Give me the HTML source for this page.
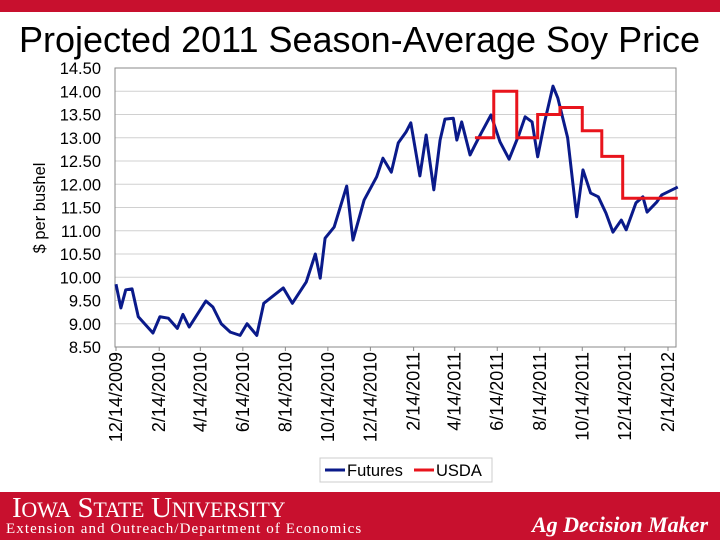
<!DOCTYPE html>
<html><head><meta charset="utf-8"><style>
body{margin:0;width:720px;height:540px;overflow:hidden;background:#fff;font-family:"Liberation Sans",Arial,sans-serif;position:relative}
</style></head><body>
<div style="position:absolute;left:0;top:0;width:720px;height:12px;background:#c8102e"></div>
<div style="position:absolute;left:19px;top:19px;font-size:36px;color:#000;white-space:nowrap">Projected 2011 Season-Average Soy Price</div>
<svg id="chart" width="720" height="540" style="position:absolute;left:0;top:0"></svg>
<div style="position:absolute;left:0;top:492px;width:720px;height:48px;background:#c8102e;color:#fff">
<div style="position:absolute;left:12px;top:0px;font-family:'Liberation Serif',serif;font-size:29px;letter-spacing:-0.3px;white-space:nowrap">I<span style="font-size:22px">OWA</span> S<span style="font-size:22px">TATE</span> U<span style="font-size:22px">NIVERSITY</span></div>
<div style="position:absolute;left:6px;top:29px;font-family:'Liberation Serif',serif;font-size:15px;letter-spacing:1.1px;white-space:nowrap">Extension and Outreach/Department of Economics</div>
<div style="position:absolute;right:12px;top:20px;font-family:'Liberation Serif',serif;font-style:italic;font-weight:bold;font-size:22px;white-space:nowrap">Ag Decision Maker</div>
</div>
<script>
const yTicks=[8.5,9.0,9.5,10.0,10.5,11.0,11.5,12.0,12.5,13.0,13.5,14.0,14.5];
const xTickLabels=["12/14/2009","2/14/2010","4/14/2010","6/14/2010","8/14/2010","10/14/2010","12/14/2010","2/14/2011","4/14/2011","6/14/2011","8/14/2011","10/14/2011","12/14/2011","2/14/2012"];
const xTickDays=[0,62,121,182,243,304,365,427,486,547,608,669,730,792];
const futuresDays=[0,7,14,23,32,53,63,75,88,96,105,129,139,151,164,178,188,202,212,240,253,273,286,293,300,313,331,340,356,374,383,395,405,416,423,436,445,456,465,472,484,489,496,508,515,524,538,551,564,578,587,597,605,615,627,634,648,661,670,681,692,703,713,725,732,746,756,762,776,783,806];
const futuresVals=[9.85,9.34,9.73,9.75,9.15,8.8,9.15,9.12,8.9,9.2,8.93,9.49,9.36,9.0,8.82,8.75,9.0,8.75,9.44,9.77,9.44,9.9,10.5,9.98,10.84,11.08,11.96,10.8,11.66,12.16,12.56,12.26,12.89,13.12,13.32,12.18,13.06,11.88,12.95,13.4,13.42,12.95,13.34,12.63,12.84,13.1,13.49,12.91,12.54,13.06,13.45,13.34,12.59,13.34,14.11,13.85,13.0,11.3,12.31,11.81,11.73,11.38,10.97,11.23,11.02,11.6,11.73,11.4,11.62,11.77,11.94];
const usdaBreaks=[515,542,575,605,637,669,697,727,806];
const usdaVals=[13.0,14.0,13.0,13.5,13.65,13.15,12.6,11.7];
const L=115,R=676,T=68,B=347;
const xs=d=>116+d*(668-116)/792;
const ys=v=>B-(v-8.5)*(B-T)/6;
const svg=document.getElementById('chart');const NS='http://www.w3.org/2000/svg';
function mk(t,a,p){const e=document.createElementNS(NS,t);for(const k in a)e.setAttribute(k,a[k]);(p||svg).appendChild(e);return e;}
yTicks.forEach(v=>{const g=mk('line',{x1:L,x2:R,y1:ys(v),y2:ys(v),stroke:'#d0d0d0','stroke-width':1});


const t=mk('text',{x:101,y:ys(v)+6,'text-anchor':'end','font-size':16.5,fill:'#000'});t.textContent=v.toFixed(2);

});
const fr=mk('rect',{x:L,y:T,width:R-L,height:B-T,fill:'none',stroke:'#888','stroke-width':1});


xTickLabels.forEach((s,i)=>{const x=xs(xTickDays[i]);mk('line',{x1:x,x2:x,y1:B,y2:B+4,stroke:'#888'});
const t=mk('text',{transform:`translate(${x+6},352) rotate(-90)`,'text-anchor':'end','font-size':18,fill:'#000'});t.textContent=s;

});
const yt=mk('text',{transform:'translate(45,208) rotate(-90)','text-anchor':'middle','font-size':16.5,fill:'#000'});yt.textContent='$ per bushel';


const fp=mk('polyline',{points:futuresDays.map((d,i)=>xs(d)+','+ys(futuresVals[i])).join(' '),fill:'none',stroke:'#0a1a8a','stroke-width':3,'stroke-linejoin':'round'});


let pts=[];usdaVals.forEach((v,i)=>{pts.push(xs(usdaBreaks[i])+','+ys(v));pts.push(xs(usdaBreaks[i+1])+','+ys(v));});
const up=mk('polyline',{points:pts.join(' '),fill:'none',stroke:'#e8141c','stroke-width':3});


const lg=mk('g',{});


mk('rect',{x:320,y:458,width:172,height:24,fill:'#fff',stroke:'#ccc'},lg);
mk('line',{x1:325,x2:345,y1:470,y2:470,stroke:'#0a1a8a','stroke-width':3},lg);
const t1=mk('text',{x:347,y:476,'font-size':16.5},lg);t1.textContent='Futures';


mk('line',{x1:414,x2:434,y1:470,y2:470,stroke:'#e8141c','stroke-width':3},lg);
const t2=mk('text',{x:436,y:476,'font-size':16.5},lg);t2.textContent='USDA';


</script>
</body></html>
